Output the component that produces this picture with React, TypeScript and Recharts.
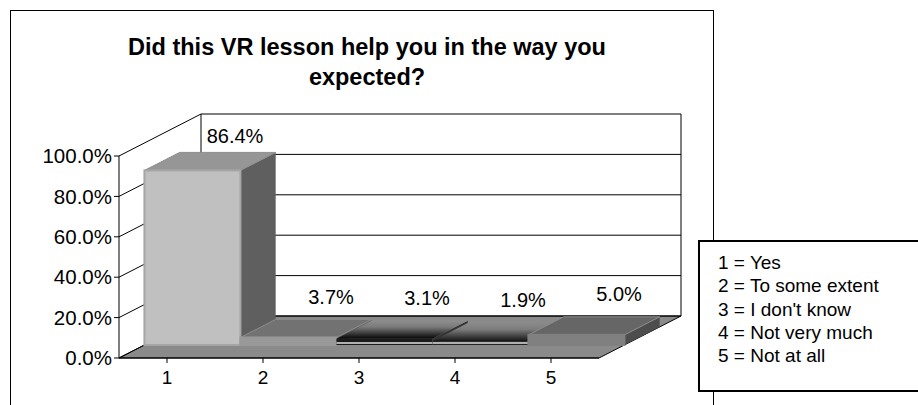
import { BarChart, Bar, XAxis, YAxis, CartesianGrid, LabelList } from "recharts";

const categories = ["1", "2", "3", "4", "5"];
const shares = [0.864, 0.037, 0.031, 0.019, 0.05];
const legendLabels = [
  "1 = Yes",
  "2 = To some extent",
  "3 = I don't know",
  "4 = Not very much",
  "5 = Not at all",
];
const yTicks = [0, 0.2, 0.4, 0.6, 0.8, 1];

const data = categories.map((cat, i) => ({ cat, share: shares[i] }));

// 3D look: depth offset of the back wall, and where the bars sit in that depth
const DX = 82;
const DY = 42;
const F0 = 0.31;
const F1 = 0.74;

const FONT = "'Liberation Sans', Arial, sans-serif";

const faces = [
  { front: "#c0c0c0", top: "#969696", side: "#5f5f5f", edge: "#a6a6a6" },
  { front: "#999999", top: "#727272", side: "#5f5f5f", edge: "#999999" },
  { front: "#1a1a1a", top: "url(#bar3grad)", side: "#333333", edge: "none" },
  { front: "#222222", top: "url(#bar4grad)", side: "#3a3a3a", edge: "none" },
  { front: "#808080", top: "#666666", side: "#4d4d4d", edge: "#808080" },
];

const pct = (v: number) => `${(v * 100).toFixed(1)}%`;

function WallLine(props: any) {
  const { x1, x2, y1, y, height, horizontalPoints } = props;
  const pts: number[] = horizontalPoints && horizontalPoints.length ? horizontalPoints : [y, y + height];
  const floorY = Math.max(...pts);
  const topY = Math.min(...pts);
  const isFloor = Math.abs(y1 - floorY) < 0.5;
  const isTop = Math.abs(y1 - topY) < 0.5;
  return (
    <g>
      {isFloor && (
        <polygon
          points={`${x1},${y1} ${x2},${y1} ${x2 + DX},${y1 - DY} ${x1 + DX},${y1 - DY}`}
          fill="#8a8a8a"
          stroke="#000"
          strokeWidth={1}
        />
      )}
      {isTop && (
        <>
          <line x1={x1 + DX} y1={y1 - DY} x2={x1 + DX} y2={floorY - DY} stroke="#000" />
          <line x1={x2 + DX} y1={y1 - DY} x2={x2 + DX} y2={floorY - DY} stroke="#000" />
        </>
      )}
      <line x1={x1} y1={y1} x2={x1 + DX} y2={y1 - DY} stroke="#000" />
      <line x1={x1 + DX} y1={y1 - DY} x2={x2 + DX} y2={y1 - DY} stroke="#000" />
    </g>
  );
}

function Box3D(props: any) {
  const { x, y, width, height, index } = props;
  const c = faces[index] || faces[0];
  const fx = x + F0 * DX;
  const fy = y - F0 * DY;
  const ddx = (F1 - F0) * DX;
  const ddy = (F1 - F0) * DY;
  const w = width;
  const h = Math.max(height, 0);
  const dark = c.edge === "none";
  return (
    <g>
      {index === 2 && (
        <defs>
          <linearGradient id="bar3grad" x1="0" y1="0" x2="0" y2="1">
            <stop offset="0" stopColor="#8e8e8e" />
            <stop offset="0.35" stopColor="#7a7a7a" />
            <stop offset="1" stopColor="#050505" />
          </linearGradient>
          <linearGradient id="bar4grad" x1="0" y1="0" x2="0" y2="1">
            <stop offset="0" stopColor="#8a8a8a" />
            <stop offset="0.35" stopColor="#7c7c7c" />
            <stop offset="1" stopColor="#151515" />
          </linearGradient>
        </defs>
      )}
      <polygon
        points={`${fx + w},${fy} ${fx + w + ddx},${fy - ddy} ${fx + w + ddx},${fy + h - ddy} ${fx + w},${fy + h}`}
        fill={c.side}
      />
      <polygon
        points={`${fx},${fy} ${fx + w},${fy} ${fx + w + ddx},${fy - ddy} ${fx + ddx},${fy - ddy}`}
        fill={c.top}
        stroke={dark ? "none" : "#8c8c8c"}
        strokeWidth={1}
      />
      <rect x={fx} y={fy} width={w} height={h} fill={c.front} stroke={c.edge} strokeWidth={dark ? 0 : 2} />
      {dark && <line x1={fx} y1={fy + h - 2} x2={fx + w} y2={fy + h - 2} stroke="#b0b0b0" strokeWidth={2} />}
    </g>
  );
}

function ShareLabel(props: any) {
  const { x, y, width, value } = props;
  const cx = x + width / 2 + 68;
  const cy = y - 54 + 8 * value;
  return (
    <text x={cx} y={cy} textAnchor="middle" dominantBaseline="central" fontFamily={FONT} fontSize={20} fill="#000">
      {pct(value)}
    </text>
  );
}

export default function App() {
  return (
    <div style={{ position: "relative", width: 918, height: 405, overflow: "hidden", background: "#fff", fontFamily: FONT }}>
      <style>{"body{margin:0}"}</style>
      <div
        style={{
          position: "absolute",
          left: 10,
          top: 10,
          width: 704,
          height: 420,
          border: "1px solid #000",
          boxSizing: "border-box",
        }}
      />
      <div
        style={{
          position: "absolute",
          left: 10,
          top: 32,
          width: 714,
          textAlign: "center",
          fontWeight: "bold",
          fontSize: 23.5,
          lineHeight: "30px",
          color: "#000",
        }}
      >
        Did this VR lesson help you in the way you
        <br />
        expected?
      </div>
      <div style={{ position: "absolute", left: 0, top: 0 }}>
        <BarChart
          width={918}
          height={405}
          data={data}
          margin={{ top: 156, right: 319, bottom: 0, left: 0 }}
          barCategoryGap={0}
          barGap={0}
        >
          <CartesianGrid horizontal={(p: any) => <WallLine key={p.key} {...p} />} vertical={false} />
          <XAxis
            dataKey="cat"
            height={47}
            tickSize={5}
            tickMargin={8}
            axisLine={{ stroke: "#000" }}
            tickLine={{ stroke: "#000" }}
            tick={{ fill: "#000", fontSize: 19, fontFamily: FONT }}
          />
          <YAxis
            width={119}
            domain={[0, 1]}
            ticks={yTicks}
            tickFormatter={pct}
            tickSize={5}
            axisLine={{ stroke: "#000" }}
            tickLine={{ stroke: "#000" }}
            tick={{ fill: "#000", fontSize: 20.5, fontFamily: FONT }}
          />
          <Bar dataKey="share" shape={(p: any) => <Box3D {...p} />} isAnimationActive={false}>
            <LabelList dataKey="share" content={(p: any) => <ShareLabel {...p} />} />
          </Bar>
        </BarChart>
      </div>
      <div
        style={{
          position: "absolute",
          left: 698,
          top: 240,
          width: 240,
          height: 152,
          border: "2px solid #000",
          boxSizing: "border-box",
          background: "#fff",
          padding: "9px 0 0 18px",
          fontSize: 19,
          lineHeight: "23.3px",
          color: "#000",
        }}
      >
        {legendLabels.map((l) => (
          <div key={l}>{l}</div>
        ))}
      </div>
    </div>
  );
}
